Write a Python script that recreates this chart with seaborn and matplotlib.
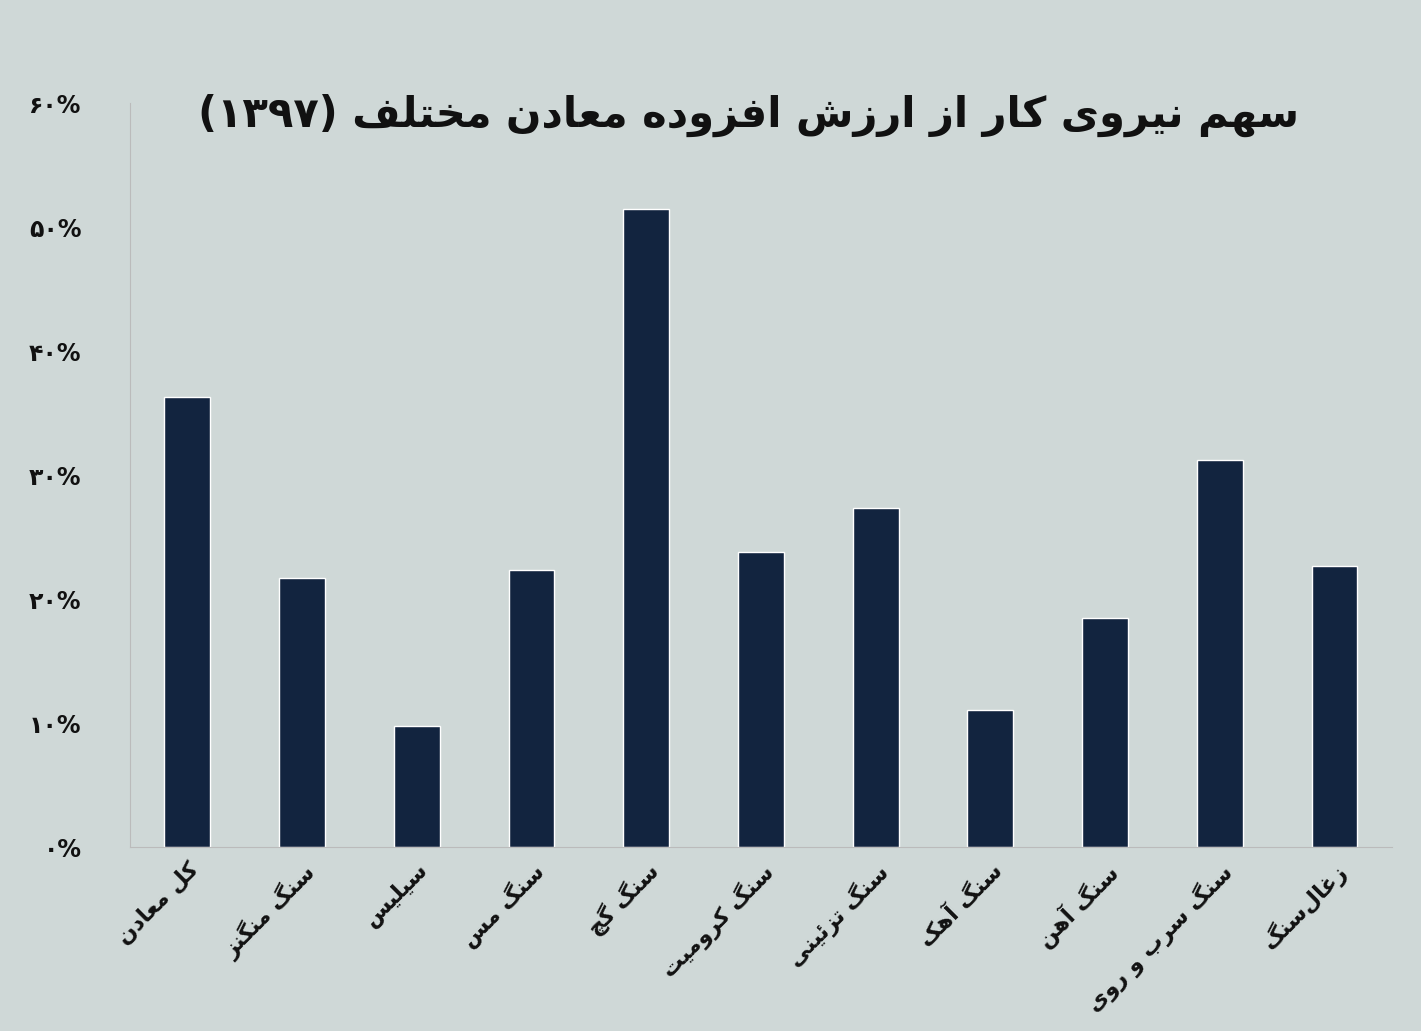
import matplotlib
matplotlib.use("Agg")
import matplotlib.pyplot as plt
import pandas as pd
import seaborn as sns

title_fa = "سهم نیروی کار از ارزش افزوده معادن مختلف (۱۳۹۷)"
categories = ["کل معادن", "سنگ منگنز", "سیلیس", "سنگ مس", "سنگ گچ", "سنگ کرومیت",
              "سنگ تزئینی", "سنگ آهک", "سنگ آهن", "سنگ سرب و روی", "زغال\u200cسنگ"]
shares = [36.3, 21.7, 9.8, 22.4, 51.5, 23.8, 27.4, 11.1, 18.5, 31.2, 22.7]
tick_values = [0, 10, 20, 30, 40, 50, 60]
tick_labels = ["۰%", "۱۰%", "۲۰%", "۳۰%", "۴۰%", "۵۰%", "۶۰%"]

# isolated, final, initial, medial (None -> letter does not join to the next one)
FORMS = {
    "ا": (0xFE8D, 0xFE8E, None, None), "آ": (0xFE81, 0xFE82, None, None),
    "ب": (0xFE8F, 0xFE90, 0xFE91, 0xFE92), "ت": (0xFE95, 0xFE96, 0xFE97, 0xFE98),
    "ج": (0xFE9D, 0xFE9E, 0xFE9F, 0xFEA0), "چ": (0xFB7A, 0xFB7B, 0xFB7C, 0xFB7D),
    "خ": (0xFEA5, 0xFEA6, 0xFEA7, 0xFEA8), "د": (0xFEA9, 0xFEAA, None, None),
    "ر": (0xFEAD, 0xFEAE, None, None), "ز": (0xFEAF, 0xFEB0, None, None),
    "س": (0xFEB1, 0xFEB2, 0xFEB3, 0xFEB4), "ش": (0xFEB5, 0xFEB6, 0xFEB7, 0xFEB8),
    "ع": (0xFEC9, 0xFECA, 0xFECB, 0xFECC), "غ": (0xFECD, 0xFECE, 0xFECF, 0xFED0),
    "ف": (0xFED1, 0xFED2, 0xFED3, 0xFED4), "ک": (0xFB8E, 0xFB8F, 0xFB90, 0xFB91),
    "گ": (0xFB92, 0xFB93, 0xFB94, 0xFB95), "ل": (0xFEDD, 0xFEDE, 0xFEDF, 0xFEE0),
    "م": (0xFEE1, 0xFEE2, 0xFEE3, 0xFEE4), "ن": (0xFEE5, 0xFEE6, 0xFEE7, 0xFEE8),
    "و": (0xFEED, 0xFEEE, None, None), "ه": (0xFEE9, 0xFEEA, 0xFEEB, 0xFEEC),
    "ی": (0xFBFC, 0xFBFD, 0xFBFE, 0xFBFF), "ئ": (0xFE89, 0xFE8A, 0xFE8B, 0xFE8C),
}


def shape(text):
    out = []
    for i, ch in enumerate(text):
        if ch not in FORMS:
            if ch != "\u200c":
                out.append(ch)
            continue
        prev = text[i - 1] if i > 0 else ""
        nxt = text[i + 1] if i + 1 < len(text) else ""
        joins_prev = prev in FORMS and FORMS[prev][2] is not None
        joins_next = nxt in FORMS and FORMS[ch][2] is not None
        iso, fin, ini, med = FORMS[ch]
        if joins_prev and joins_next:
            code = med
        elif joins_prev:
            code = fin
        elif joins_next:
            code = ini
        else:
            code = iso
        out.append(chr(code))
    # visual order: reverse, keep digit runs left-to-right, mirror brackets
    rev = "".join(out)[::-1]
    res, run = [], ""
    for ch in rev:
        if ch.isdigit():
            run += ch
        else:
            if run:
                res.append(run[::-1])
                run = ""
            res.append({"(": ")", ")": "("}.get(ch, ch))
    if run:
        res.append(run[::-1])
    return "".join(res)


bg = "#CFD8D7"
bar_color = "#12243F"
sns.set_style("white")
plt.rcParams["font.family"] = ["DejaVu Sans"]

df = pd.DataFrame({"category": [shape(c) for c in categories], "share": shares})

fig = plt.figure(figsize=(14.21, 10.31), dpi=100, facecolor=bg)
ax = fig.add_axes([0.0915, 0.178, 0.888, 0.722])
ax.set_facecolor(bg)
sns.barplot(data=df, x="category", y="share", color=bar_color, width=0.4, ax=ax,
            saturation=1)
ax.set_ylim(0, 60)
ax.set_xlim(-0.5, len(categories) - 0.5)
ax.set_yticks(tick_values)
ax.set_yticklabels(tick_labels, fontsize=17, fontweight="bold", color="#111111")
ax.tick_params(axis="y", length=0, pad=35)
ax.tick_params(axis="x", length=0, pad=8)
plt.setp(ax.get_xticklabels(), rotation=45, ha="right", rotation_mode="anchor",
         fontsize=16, fontweight="bold", color="#111111")
ax.set_xlabel("")
ax.set_ylabel("")
for side in ["top", "right"]:
    ax.spines[side].set_visible(False)
for side in ["left", "bottom"]:
    ax.spines[side].set_color("#BBBBBB")

fig.text(0.527, 0.888, shape(title_fa), ha="center", va="center",
         fontsize=30, fontweight="bold", color="#111111")

fig.savefig("out.png", dpi=100, facecolor=bg)
